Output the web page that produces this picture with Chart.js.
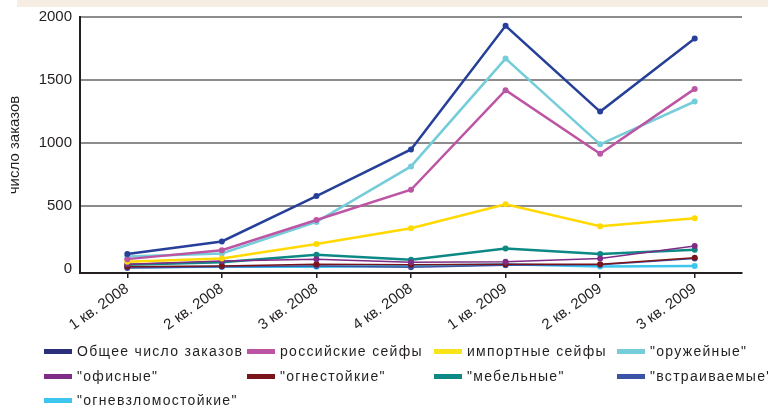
<!DOCTYPE html>
<html>
<head>
<meta charset="utf-8">
<script src="https://cdn.jsdelivr.net/npm/chart.js@4.4.1/dist/chart.umd.min.js"></script>
<style>
    html, body { margin: 0; padding: 0; background: #fff; }
    #wrap { position: relative; width: 768px; height: 408px; overflow: hidden; }
    #band { position: absolute; left: 17px; top: 0; width: 751px; height: 7px; background: #f6eee2; }
    #chartBox { position: absolute; left: 0; top: 0; width: 768px; height: 340px; }
    #legend { position: absolute; left: 0; top: 0; width: 768px; height: 408px; pointer-events: none; }
    .item { position: absolute; display: flex; align-items: center; height: 20px; white-space: nowrap;
            font-family: "Liberation Sans", Arial, sans-serif; font-size: 14px; letter-spacing: 1.3px; color: #231f20; }
    .swatch { width: 28px; height: 5px; margin-right: 5px; flex: none; }
</style>
</head>
<body>
<div id="wrap">
    <div id="band"></div>
    <div id="chartBox"><canvas id="chart"></canvas></div>
    <div id="legend"></div>
</div>
<script>
// Квартальные данные по числу заказов
var quarters = ['1 кв. 2008', '2 кв. 2008', '3 кв. 2008', '4 кв. 2008', '1 кв. 2009', '2 кв. 2009', '3 кв. 2009'];
var yTicks = [0, 500, 1000, 1500, 2000];

var totalOrders = [120, 220, 580, 950, 1930, 1250, 1830];
var russianSafes = [80, 150, 390, 630, 1420, 915, 1430];
var importSafes = [60, 85, 200, 325, 515, 340, 405];
var weaponSafes = [100, 125, 375, 815, 1670, 990, 1330];
var officeSafes = [40, 65, 80, 55, 60, 85, 185];
var fireproofSafes = [20, 25, 40, 35, 40, 40, 90];
var furnitureSafes = [35, 55, 115, 75, 165, 120, 155];
var builtinSafes = [10, 20, 25, 15, 32, 35, 85];
var burglarySafes = [15, 20, 20, 25, 40, 22, 25];

var series = [
    { label: 'Общее число заказов', data: totalOrders, color: '#263f98', legendColor: '#2b2e78', width: 2.5 },
    { label: 'российские сейфы', data: russianSafes, color: '#bd55a5', width: 2.5 },
    { label: 'импортные сейфы', data: importSafes, color: '#ffd900', legendColor: '#f7e419', width: 2.5 },
    { label: '"оружейные"', data: weaponSafes, color: '#74cdd9', width: 2.5 },
    { label: '"офисные"', data: officeSafes, color: '#7e2c86', width: 1.5 },
    { label: '"огнестойкие"', data: fireproofSafes, color: '#7a151b', width: 1.5 },
    { label: '"мебельные"', data: furnitureSafes, color: '#0d8985', width: 2.5 },
    { label: '"встраиваемые"', data: builtinSafes, color: '#3b53a6', width: 1.5 },
    { label: '"огневзломостойкие"', data: burglarySafes, color: '#3ec5ee', width: 2.5 }
];

Chart.defaults.font.family = '"Liberation Sans", Arial, sans-serif';
Chart.defaults.color = '#231f20';

var datasets = series.map(function (s) {
    return {
        label: s.label,
        data: s.data,
        borderColor: s.color,
        backgroundColor: s.color,
        borderWidth: s.width,
        pointRadius: 3,
        pointHoverRadius: 3,
        pointBorderWidth: 0,
        tension: 0
    };
});

// Легенда в HTML: сетка из 4 колонок
var legendCols = [44, 247, 434, 617];
var legendRows = [351, 376, 400];

function buildLegend() {
    var box = document.getElementById('legend');
    box.innerHTML = '';
    series.forEach(function (s, i) {
        var div = document.createElement('div');
        div.className = 'item';
        div.style.left = legendCols[i % 4] + 'px';
        div.style.top = (legendRows[Math.floor(i / 4)] - 10) + 'px';
        var sw = document.createElement('span');
        sw.className = 'swatch';
        sw.style.background = s.legendColor || s.color;
        div.appendChild(sw);
        div.appendChild(document.createTextNode(s.label));
        box.appendChild(div);
    });
}

var chart = new Chart(document.getElementById('chart').getContext('2d'), {
    type: 'line',
    data: { labels: quarters, datasets: datasets },
    options: {
        responsive: true,
        maintainAspectRatio: false,
        animation: false,
        layout: { padding: { top: 16, right: 26, left: 0, bottom: 0 } },
        plugins: {
            legend: { display: false },
            tooltip: { enabled: false }
        },
        scales: {
            x: {
                offset: true,
                grid: { drawOnChartArea: false, drawTicks: true, tickLength: 5, color: '#231f20', lineWidth: 1.5, offset: false },
                border: { color: '#231f20', width: 2 },
                ticks: { autoSkip: false, minRotation: 35, maxRotation: 35, padding: 2, font: { size: 15 }, color: '#231f20' },
                afterFit: function (scale) { scale.height = 67; }
            },
            y: {
                min: -30,
                max: 2000,
                afterBuildTicks: function (scale) {
                    scale.ticks = yTicks.map(function (v) { return { value: v }; });
                },
                grid: {
                    drawTicks: false,
                    lineWidth: 2,
                    color: function (ctx) { return ctx.tick && ctx.tick.value === 0 ? 'rgba(0,0,0,0)' : '#8c8c8c'; }
                },
                border: { color: '#231f20', width: 2 },
                ticks: {
                    padding: 8,
                    font: { size: 15 },
                    color: '#231f20',
                    callback: function (value) { return String(value); }
                },
                title: { display: true, text: 'число заказов', font: { size: 15 }, color: '#231f20', padding: { top: 6, bottom: 0 } },
                afterFit: function (scale) { scale.width = 80; }
            }
        }
    }
});

buildLegend();
</script>
</body>
</html>
